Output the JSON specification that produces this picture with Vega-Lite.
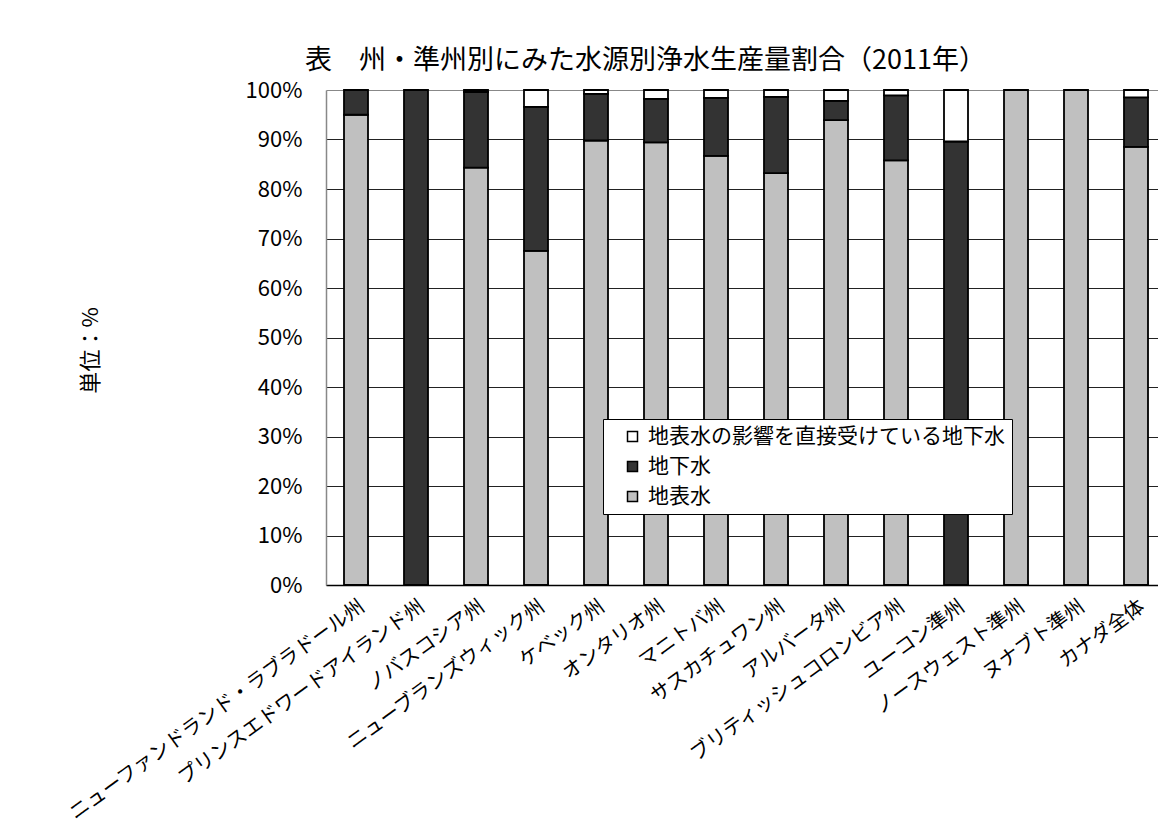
{
  "$schema": "https://vega.github.io/schema/vega-lite/v6.json",
  "autosize": {"type": "none"},
  "padding": {"left": 326, "top": 90, "right": 0, "bottom": 242},
  "width": 832,
  "height": 495,
  "background": "white",
  "title": {
    "text": "表　州・準州別にみた水源別浄水生産量割合（2011年）",
    "anchor": "start",
    "frame": "group",
    "dx": -21,
    "offset": 4,
    "fontSize": 27,
    "fontWeight": "normal",
    "font": "Noto Sans CJK JP",
    "color": "black"
  },
  "data": {
    "values": [
      {"region": "ニューファンドランド・ラブラドール州", "source": "地表水", "code": 1, "share": 95.0},
      {"region": "ニューファンドランド・ラブラドール州", "source": "地下水", "code": 2, "share": 5.0},
      {"region": "プリンスエドワードアイランド州", "source": "地下水", "code": 2, "share": 100.0},
      {"region": "ノバスコシア州", "source": "地表水", "code": 1, "share": 84.3},
      {"region": "ノバスコシア州", "source": "地下水", "code": 2, "share": 15.3},
      {"region": "ノバスコシア州", "source": "地表水の影響を直接受けている地下水", "code": 3, "share": 0.4},
      {"region": "ニューブランズウィック州", "source": "地表水", "code": 1, "share": 67.5},
      {"region": "ニューブランズウィック州", "source": "地下水", "code": 2, "share": 29.1},
      {"region": "ニューブランズウィック州", "source": "地表水の影響を直接受けている地下水", "code": 3, "share": 3.4},
      {"region": "ケベック州", "source": "地表水", "code": 1, "share": 89.8},
      {"region": "ケベック州", "source": "地下水", "code": 2, "share": 9.4},
      {"region": "ケベック州", "source": "地表水の影響を直接受けている地下水", "code": 3, "share": 0.8},
      {"region": "オンタリオ州", "source": "地表水", "code": 1, "share": 89.4},
      {"region": "オンタリオ州", "source": "地下水", "code": 2, "share": 8.8},
      {"region": "オンタリオ州", "source": "地表水の影響を直接受けている地下水", "code": 3, "share": 1.8},
      {"region": "マニトバ州", "source": "地表水", "code": 1, "share": 86.7},
      {"region": "マニトバ州", "source": "地下水", "code": 2, "share": 11.7},
      {"region": "マニトバ州", "source": "地表水の影響を直接受けている地下水", "code": 3, "share": 1.6},
      {"region": "サスカチュワン州", "source": "地表水", "code": 1, "share": 83.2},
      {"region": "サスカチュワン州", "source": "地下水", "code": 2, "share": 15.4},
      {"region": "サスカチュワン州", "source": "地表水の影響を直接受けている地下水", "code": 3, "share": 1.4},
      {"region": "アルバータ州", "source": "地表水", "code": 1, "share": 93.9},
      {"region": "アルバータ州", "source": "地下水", "code": 2, "share": 3.9},
      {"region": "アルバータ州", "source": "地表水の影響を直接受けている地下水", "code": 3, "share": 2.2},
      {"region": "ブリティッシュコロンビア州", "source": "地表水", "code": 1, "share": 85.8},
      {"region": "ブリティッシュコロンビア州", "source": "地下水", "code": 2, "share": 13.1},
      {"region": "ブリティッシュコロンビア州", "source": "地表水の影響を直接受けている地下水", "code": 3, "share": 1.1},
      {"region": "ユーコン準州", "source": "地下水", "code": 2, "share": 89.6},
      {"region": "ユーコン準州", "source": "地表水の影響を直接受けている地下水", "code": 3, "share": 10.4},
      {"region": "ノースウェスト準州", "source": "地表水", "code": 1, "share": 100.0},
      {"region": "ヌナブト準州", "source": "地表水", "code": 1, "share": 100.0},
      {"region": "カナダ全体", "source": "地表水", "code": 1, "share": 88.5},
      {"region": "カナダ全体", "source": "地下水", "code": 2, "share": 10.0},
      {"region": "カナダ全体", "source": "地表水の影響を直接受けている地下水", "code": 3, "share": 1.5}
    ]
  },
  "mark": {"type": "bar", "stroke": "black", "strokeWidth": 1.8},
  "encoding": {
    "x": {
      "field": "region",
      "type": "nominal",
      "sort": null,
      "scale": {"range": [0, 840], "paddingInner": 0.6, "paddingOuter": 0.3},
      "axis": {
        "title": null,
        "labelAngle": -36,
        "labelAlign": "right",
        "labelBaseline": "top",
        "labelFontSize": 20,
        "labelFont": "Noto Sans CJK JP",
        "labelColor": "black",
        "labelPadding": 16,
        "labelLimit": 0,
        "tickBand": "extent",
        "tickSize": -5,
        "tickColor": "#555",
        "domainColor": "black",
        "domainWidth": 1.5
      }
    },
    "y": {
      "field": "share",
      "type": "quantitative",
      "stack": "zero",
      "scale": {"domain": [0, 100], "nice": false},
      "axis": {
        "title": "単位：%",
        "titleFontSize": 22,
        "titleFont": "Noto Sans CJK JP",
        "titleFontWeight": "normal",
        "titleColor": "black",
        "titleX": -236,
        "titleY": 260,
        "titleAngle": -90,
        "titleAlign": "center",
        "titleBaseline": "middle",
        "values": [0, 10, 20, 30, 40, 50, 60, 70, 80, 90, 100],
        "labelExpr": "datum.value + '%'",
        "labelFontSize": 22,
        "labelFont": "Noto Sans CJK JP",
        "labelColor": "black",
        "labelPadding": 24,
        "ticks": false,
        "domainColor": "#888",
        "domainWidth": 1.5,
        "grid": true,
        "gridColor": {"condition": {"test": "datum.value === 100", "value": "#888"}, "value": "#222"},
        "gridWidth": 1
      }
    },
    "color": {
      "field": "source",
      "type": "nominal",
      "scale": {
        "domain": ["地表水の影響を直接受けている地下水", "地下水", "地表水"],
        "range": ["#ffffff", "#333333", "#c0c0c0"]
      },
      "legend": {
        "title": null,
        "orient": "none",
        "legendX": 277,
        "legendY": 329,
        "fillColor": "white",
        "strokeColor": "black",
        "padding": 7,
        "symbolType": "square",
        "symbolSize": 100,
        "symbolStrokeColor": "black",
        "symbolStrokeWidth": 1.5,
        "symbolOffset": 12,
        "labelFontSize": 21,
        "labelFont": "Noto Sans CJK JP",
        "labelColor": "black",
        "labelLimit": 0,
        "labelOffset": 5,
        "rowPadding": 8
      }
    },
    "order": {"field": "code", "type": "quantitative", "sort": "ascending"}
  },
  "config": {
    "view": {"stroke": null},
    "font": "Noto Sans CJK JP"
  }
}
